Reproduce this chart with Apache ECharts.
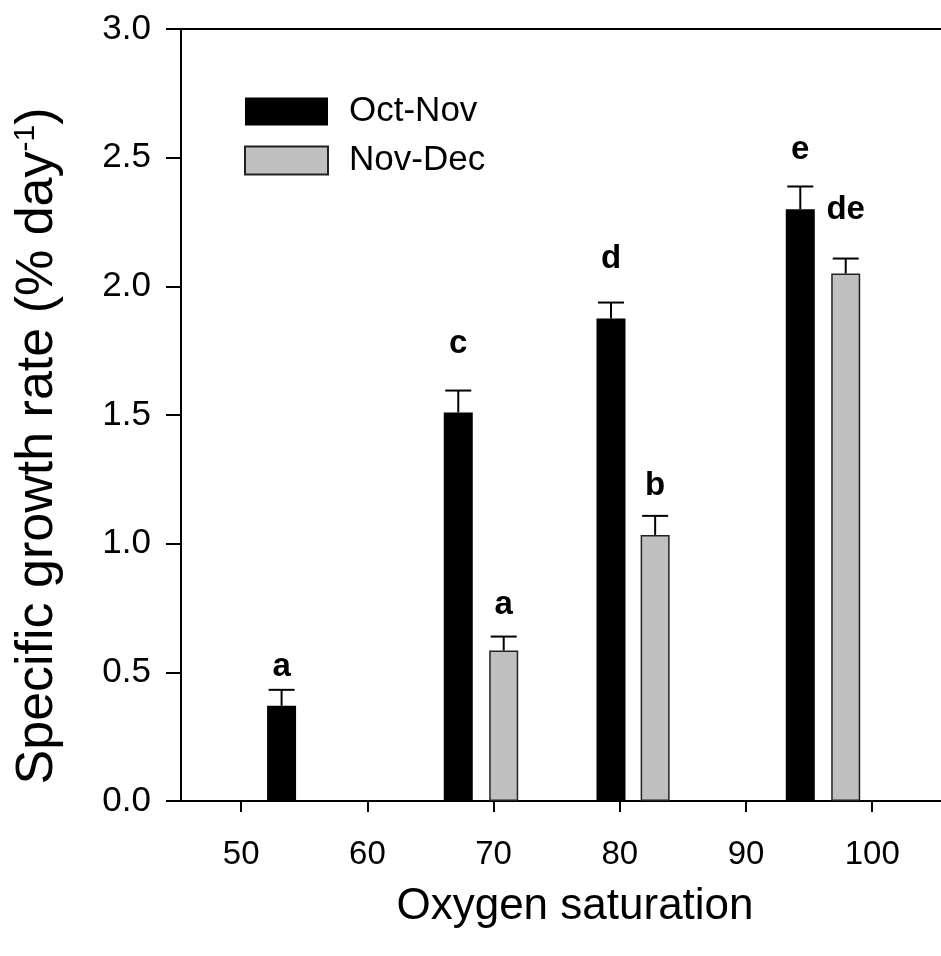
<!DOCTYPE html>
<html>
<head>
<meta charset="utf-8">
<script src="https://cdn.jsdelivr.net/npm/echarts@6/dist/echarts.min.js"></script>
<style>
html,body{margin:0;padding:0;background:#fff;}
#chart{width:941px;height:956px;}
</style>
</head>
<body>
<div id="chart"></div>
<script>
// ---- data ----
const xTicks = [50, 60, 70, 80, 90, 100];
const yTicks = [0.0, 0.5, 1.0, 1.5, 2.0, 2.5, 3.0];
const seriesNames = ['Oct-Nov', 'Nov-Dec'];
const octNovX = [53.2, 67.2, 79.3, 94.3];
const octNovY = [0.37, 1.51, 1.875, 2.30];
const octNovErr = [0.062, 0.085, 0.062, 0.088];
const octNovLetters = ['a', 'c', 'd', 'e'];
const octNovLetterY = [0.494, 1.750, 2.079, 2.504];
const novDecX = [70.8, 82.8, 97.9];
const novDecY = [0.585, 1.034, 2.05];
const novDecErr = [0.054, 0.074, 0.058];
const novDecLetters = ['a', 'b', 'de'];
const novDecLetterY = [0.735, 1.197, 2.270];

const FONT = '"Liberation Sans", Arial, sans-serif';
const chart = echarts.init(document.getElementById('chart'), null, {renderer: 'canvas'});

function pairs(xs, ys) { return xs.map((x, i) => [x, ys[i]]); }

function errSeries(xs, ys, errs, letters, letterY) {
  return {
    type: 'custom',
    silent: true,
    z: 5,
    data: xs.map((x, i) => [x, ys[i], ys[i] + errs[i], letterY[i]]),
    renderItem: function (params, api) {
      const i = params.dataIndex;
      const base = api.coord([api.value(0), api.value(1)]);
      const top = api.coord([api.value(0), api.value(2)]);
      const lab = api.coord([api.value(0), api.value(3)]);
      const half = 13;
      return {
        type: 'group',
        children: [
          {type: 'line', shape: {x1: base[0], y1: base[1], x2: top[0], y2: top[1]}, style: {stroke: '#000', lineWidth: 2}},
          {type: 'line', shape: {x1: top[0] - half, y1: top[1], x2: top[0] + half, y2: top[1]}, style: {stroke: '#000', lineWidth: 2}},
          {type: 'text', x: lab[0], y: lab[1] - 7, style: {text: letters[i], fontFamily: FONT, fontWeight: 'bold', fontSize: 33, fill: '#000', align: 'center', verticalAlign: 'middle'}}
        ]
      };
    }
  };
}

const xMin = 45.23, xMax = 105.45;

const option = {
  animation: false,
  backgroundColor: '#fff',
  grid: {left: 181, top: 29, right: 0, bottom: 155, containLabel: false},
  legend: {
    data: seriesNames,
    orient: 'vertical',
    left: 244, top: 94, padding: 0,
    icon: 'rect',
    itemWidth: 83, itemHeight: 28, itemGap: 14,
    textStyle: {fontFamily: FONT, fontSize: 35, color: '#000', padding: [0, 0, 0, 16]}
  },
  xAxis: [{
    type: 'value', position: 'bottom', min: xMin, max: xMax,
    axisLine: {show: true, lineStyle: {color: '#000', width: 2}},
    axisTick: {show: true, length: 11, inside: false, customValues: xTicks, lineStyle: {color: '#000', width: 2}},
    axisLabel: {customValues: xTicks, margin: 37, fontFamily: FONT, fontSize: 33, color: '#000'},
    splitLine: {show: false}
  }, {
    type: 'value', position: 'top', min: xMin, max: xMax,
    axisLine: {show: true, lineStyle: {color: '#000', width: 2}},
    axisTick: {show: false}, axisLabel: {show: false}, splitLine: {show: false}
  }],
  yAxis: {
    type: 'value', min: 0, max: 3, interval: 0.5,
    axisLine: {show: true, lineStyle: {color: '#000', width: 2}},
    axisTick: {show: true, length: 15, inside: false, lineStyle: {color: '#000', width: 2}},
    axisLabel: {margin: 30, fontFamily: FONT, fontSize: 35, color: '#000', formatter: v => v.toFixed(1)},
    splitLine: {show: false}
  },
  graphic: [
    {type: 'text', x: 575, y: 907, style: {text: 'Oxygen saturation', fontFamily: FONT, fontSize: 44, fill: '#000', align: 'center', verticalAlign: 'middle'}},
    {type: 'text', x: 38, y: 446, rotation: Math.PI / 2, style: {
      text: '{a|Specific growth rate (% day}{s|-1}{a|)}', align: 'center', verticalAlign: 'middle',
      rich: {a: {fontFamily: FONT, fontSize: 52, fill: '#000'}, s: {fontFamily: FONT, fontSize: 30, fill: '#000', padding: [0, 0, 24, 0]}}
    }}
  ],
  series: [
    {name: seriesNames[0], type: 'bar', xAxisIndex: 0, barWidth: 29, barGap: '-100%', data: pairs(octNovX, octNovY), itemStyle: {color: '#000'}, z: 3},
    {name: seriesNames[1], type: 'bar', xAxisIndex: 0, barWidth: 29, barGap: '-100%', data: pairs(novDecX, novDecY), itemStyle: {color: '#c0c0c0', borderColor: '#222', borderWidth: 1.5}, z: 3},
    errSeries(octNovX, octNovY, octNovErr, octNovLetters, octNovLetterY),
    errSeries(novDecX, novDecY, novDecErr, novDecLetters, novDecLetterY)
  ]
};
chart.setOption(option);
</script>
</body>
</html>
